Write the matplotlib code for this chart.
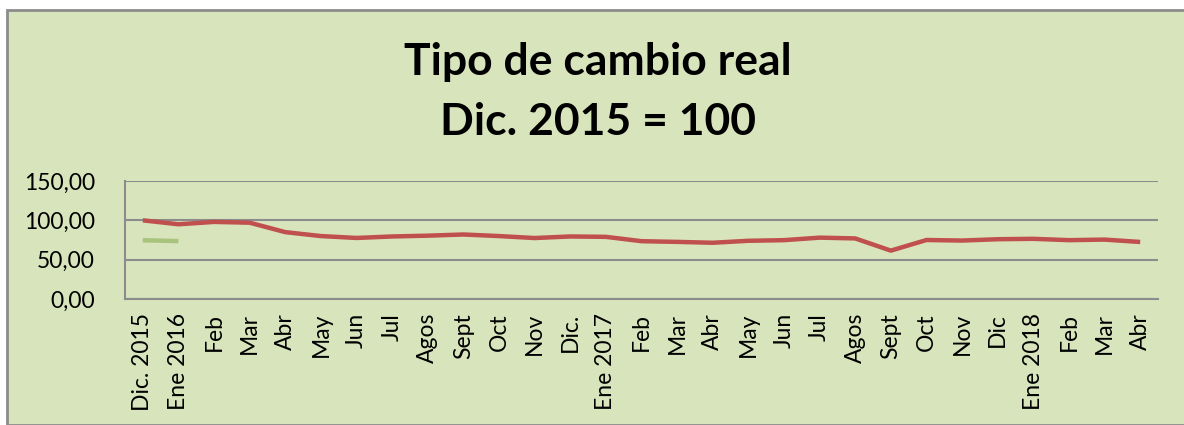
import matplotlib
matplotlib.use("Agg")
import matplotlib.pyplot as plt
import numpy as np
from matplotlib.patches import Rectangle
from matplotlib.ticker import FuncFormatter

categories = ["Dic. 2015", "Ene 2016", "Feb", "Mar", "Abr", "May", "Jun", "Jul",
              "Agos", "Sept", "Oct", "Nov", "Dic.", "Ene 2017", "Feb", "Mar", "Abr",
              "May", "Jun", "Jul", "Agos", "Sept", "Oct", "Nov", "Dic", "Ene 2018",
              "Feb", "Mar", "Abr"]
real_rate = [100.0, 95.0, 98.0, 97.0, 85.0, 80.0, 77.6, 79.5, 80.5, 82.0, 80.0,
             77.5, 79.5, 79.0, 73.5, 72.6, 71.5, 74.0, 74.8, 78.0, 77.0, 61.5,
             75.0, 74.3, 76.0, 76.5, 74.8, 75.5, 72.5]
second_series = [74.7, 73.6]

plt.rcParams['font.family'] = ['Lato', 'DejaVu Sans']

fig = plt.figure(figsize=(11.84, 4.25), dpi=100)
fig.patch.set_facecolor("white")
bg = "#D8E4BC"
fig.patches.append(Rectangle((7/1184, 0), 1 - 7/1184 + 0.01, 1 - 10/425, transform=fig.transFigure,
                             facecolor=bg, edgecolor="#8C8C8C", linewidth=2, zorder=-10))

ax = fig.add_axes([125/1184, 1 - 299/425, (1158 - 125)/1184, (299 - 181)/425])
ax.set_facecolor(bg)
x = np.arange(len(categories))
ax.plot(x, real_rate, color="#C0504D", linewidth=3.2, solid_capstyle="butt", zorder=3)
ax.plot(x[:len(second_series)], second_series, color="#A8C37C", linewidth=3.2,
        solid_capstyle="butt", zorder=3)

ax.set_xlim(-0.5, len(categories) - 0.5)
ax.set_ylim(0, 150)
ax.set_yticks([0, 50, 100, 150])
ax.yaxis.set_major_formatter(FuncFormatter(lambda v, p: f"{v:.2f}".replace(".", ",")))
ax.set_xticks(x)
ax.set_xticklabels(categories, rotation=90, fontsize=16.5)
ax.tick_params(axis="y", labelsize=16.5, length=0, pad=21.5)
ax.tick_params(axis="x", length=0, pad=10)
ax.grid(axis="y", color="#8C8C8C", linewidth=1.5)
ax.set_axisbelow(True)
for s in ["top", "right"]:
    ax.spines[s].set_visible(False)
for s in ["left", "bottom"]:
    ax.spines[s].set_color("#8C8C8C")
    ax.spines[s].set_linewidth(1.5)

fig.text(0.505, 1 - 62/425, "Tipo de cambio real", ha="center", va="center",
         fontsize=32, fontweight="bold")
fig.text(0.505, 1 - 122/425, "Dic. 2015 = 100", ha="center", va="center",
         fontsize=32, fontweight="bold")

fig.savefig("out.png", dpi=100, facecolor=fig.get_facecolor())
